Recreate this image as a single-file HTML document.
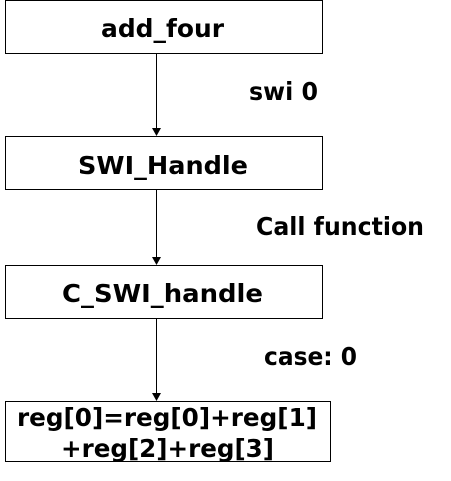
<!DOCTYPE html>
<html><head><meta charset="utf-8"><style>
html,body{margin:0;padding:0;background:#fff;width:451px;height:481px;overflow:hidden}
text{font-family:"DejaVu Sans","Liberation Sans",sans-serif;font-weight:bold;font-size:25px;fill:#000}
</style></head><body>
<svg width="451" height="481" xmlns="http://www.w3.org/2000/svg">
<g fill="none" stroke="#000" stroke-width="1">
<rect x="5.5" y="0.5" width="317" height="53"/>
<rect x="5.5" y="136.5" width="317" height="53"/>
<rect x="5.5" y="265.5" width="317" height="53"/>
<rect x="5.5" y="401.5" width="325" height="60"/>
<line x1="156.5" y1="53" x2="156.5" y2="130"/>
<line x1="156.5" y1="189" x2="156.5" y2="259"/>
<line x1="156.5" y1="318" x2="156.5" y2="395"/>
</g>
<g fill="#000">
<polygon points="152,128 161,128 156.5,136"/>
<polygon points="152,257 161,257 156.5,265"/>
<polygon points="152,393 161,393 156.5,401"/>
</g>
<text x="101" y="37" textLength="123" lengthAdjust="spacingAndGlyphs">add_four</text>
<text x="249" y="100" textLength="69" lengthAdjust="spacingAndGlyphs">swi 0</text>
<text x="78" y="174" textLength="170" lengthAdjust="spacingAndGlyphs">SWI_Handle</text>
<text x="256" y="235" textLength="168" lengthAdjust="spacingAndGlyphs">Call function</text>
<text x="62" y="302" textLength="201" lengthAdjust="spacingAndGlyphs">C_SWI_handle</text>
<text x="264" y="365" textLength="93" lengthAdjust="spacingAndGlyphs">case: 0</text>
<text x="17" y="426" textLength="300" lengthAdjust="spacingAndGlyphs">reg[0]=reg[0]+reg[1]</text>
<text x="61" y="457" textLength="213" lengthAdjust="spacingAndGlyphs">+reg[2]+reg[3]</text>
</svg>
</body></html>
